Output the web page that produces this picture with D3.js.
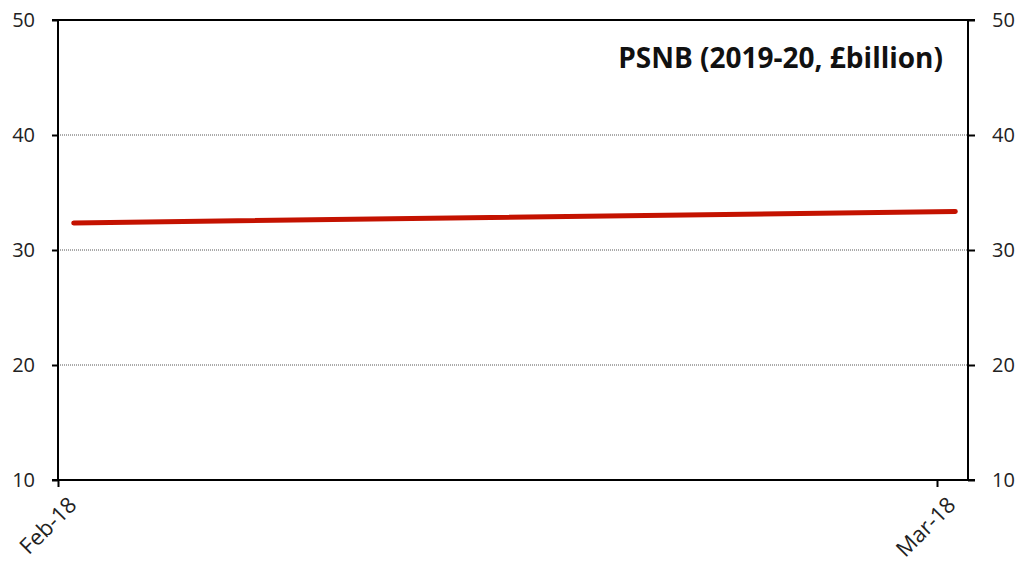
<html>
  <head>
    <meta charset="utf-8" />
    <script src="https://d3js.org/d3.v7.min.js"></script>
    <style>
      body {
        margin: 0;
        font-family: "Open Sans", "Noto Sans", sans-serif;
      }
      .grid line {
        stroke: #555;
        stroke-width: 1;
        stroke-dasharray: 1, 1;
      }
    </style>
  </head>

  <body>
    <svg id="chart" width="1025" height="569"></svg>
    <script>
      // x tick labels and their dates
      var tickLabels = ["Feb-18", "Mar-18"];
      var tickDates = ["2018-02-01", "2018-03-01"];
      // series points (date, £bn)
      var pointDates = ["2018-02-01T12:00", "2018-03-01T14:00"];
      var psnb = [32.35, 33.35];
      var yTicks = [10, 20, 30, 40, 50];
      var title = "PSNB (2019-20, £billion)";

      var parse = d3.isoParse;
      var svg = d3.select("#chart"),
        margin = { top: 20, bottom: 89, left: 58, right: 57 },
        width = +svg.attr("width"),
        height = +svg.attr("height");

      var x = d3
        .scaleTime()
        .domain(tickDates.map(parse))
        .range([margin.left, 937]);

      var y = d3
        .scaleLinear()
        .domain([10, 50])
        .range([height - margin.bottom, margin.top]);

      var left = margin.left,
        right = width - margin.right;

      // gridlines
      svg
        .append("g")
        .attr("class", "grid")
        .selectAll("line")
        .data(yTicks.filter((d) => d > 10 && d < 50))
        .enter()
        .append("line")
        .attr("x1", left)
        .attr("x2", right)
        .attr("y1", (d) => y(d))
        .attr("y2", (d) => y(d));

      // top border
      svg
        .append("line")
        .attr("x1", left - 6)
        .attr("x2", right + 7)
        .attr("y1", y(50))
        .attr("y2", y(50))
        .attr("stroke", "#000")
        .attr("stroke-width", 2);

      var yLeft = svg
        .append("g")
        .attr("transform", "translate(" + left + ",0)")
        .call(d3.axisLeft(y).tickValues(yTicks).tickSize(6).tickPadding(17));

      var yRight = svg
        .append("g")
        .attr("transform", "translate(" + right + ",0)")
        .call(d3.axisRight(y).tickValues(yTicks).tickSize(7).tickPadding(17));

      var xAxis = svg
        .append("g")
        .attr("transform", "translate(0," + y(10) + ")")
        .call(
          d3
            .axisBottom(x)
            .tickValues(tickDates.map(parse))
            .tickFormat((d, i) => tickLabels[i])
            .tickSize(7)
            .tickSizeOuter(0)
        );

      [yLeft, yRight, xAxis].forEach(function (g) {
        g.selectAll("path, line").attr("stroke", "#000").attr("stroke-width", 2);
        g.selectAll("text")
          .attr("fill", "#222")
          .style("font-family", '"Open Sans", "Noto Sans", sans-serif')
          .style("font-size", "20px");
      });
      yLeft.select(".domain").attr("d", "M0," + y(10) + "V" + y(50));
      yRight.select(".domain").attr("d", "M0," + y(10) + "V" + y(50));
      xAxis
        .select(".domain")
        .attr("d", "M" + (left - 6) + ",0H" + (right + 7));

      xAxis
        .selectAll("text")
        .style("font-size", "22px")
        .attr("text-anchor", "end")
        .attr("dy", "0.35em")
        .attr("transform", "translate(14,21) rotate(-45)")
        .attr("x", 0)
        .attr("y", 0);

      // series
      var data = pointDates.map((d, i) => ({ date: parse(d), value: psnb[i] }));
      svg
        .append("path")
        .datum(data)
        .attr("fill", "none")
        .attr("stroke", "#c41200")
        .attr("stroke-width", 5)
        .attr("stroke-linecap", "round")
        .attr(
          "d",
          d3
            .line()
            .x((d) => x(d.date))
            .y((d) => y(d.value))
        );

      svg
        .append("text")
        .attr("x", 943)
        .attr("y", 68)
        .attr("text-anchor", "end")
        .attr("font-weight", "bold")
        .attr("font-size", "28px")
        .attr("fill", "#111")
        .text(title);
    </script>
  </body>
</html>
